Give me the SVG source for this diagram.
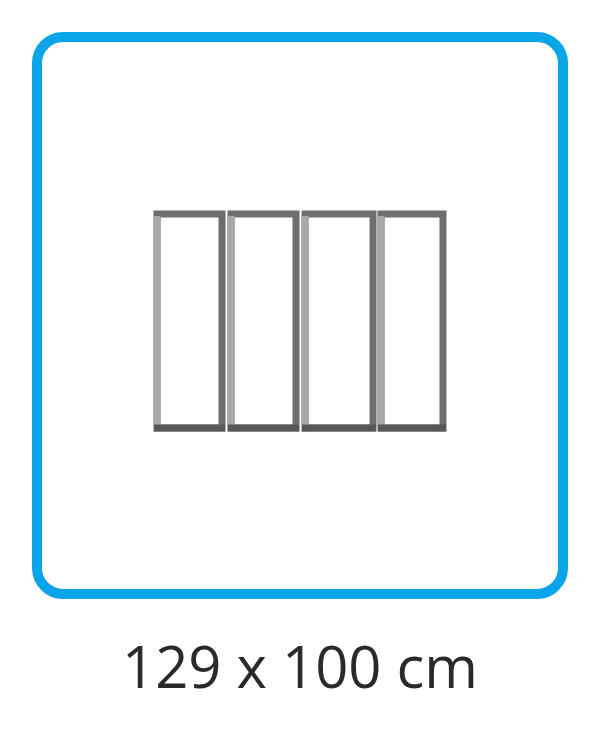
<svg xmlns="http://www.w3.org/2000/svg" width="600" height="747" viewBox="0 0 600 747">
<style>
.frame{fill:#ffffff;stroke:#0aa5e8;stroke-width:10}
.panel{fill:#ffffff;stroke:#6e6e6e;stroke-width:7}
.lite{stroke:#a8a8a8;stroke-width:7;fill:none}
.bot{stroke:#585858;stroke-width:7;fill:none}
.label{font-family:"Open Sans","Noto Sans","Liberation Sans",sans-serif;font-size:58px;fill:#2a2a2a;text-anchor:middle}
</style>
<rect width="600" height="747" fill="#ffffff"/>
<g id="frame">
<rect class="frame" x="37" y="37" width="526" height="557" rx="26" ry="26"/>
</g>
<g id="panels">
<g id="panel1"><rect class="panel" x="157" y="214" width="65" height="214"/><line class="lite" x1="157" y1="216" x2="157" y2="428"/><line class="bot" x1="154" y1="428" x2="225" y2="428"/></g>
<g id="panel2"><rect class="panel" x="231" y="214" width="65" height="214"/><line class="lite" x1="231" y1="216" x2="231" y2="428"/><line class="bot" x1="228" y1="428" x2="299" y2="428"/></g>
<g id="panel3"><rect class="panel" x="305" y="214" width="68" height="214"/><line class="lite" x1="305" y1="216" x2="305" y2="428"/><line class="bot" x1="302" y1="428" x2="376" y2="428"/></g>
<g id="panel4"><rect class="panel" x="381" y="214" width="62" height="214"/><line class="lite" x1="381" y1="216" x2="381" y2="428"/><line class="bot" x1="378" y1="428" x2="446" y2="428"/></g>
</g>
<g id="caption">
<text class="label" x="300" y="688">129 x 100 cm</text>
</g>
</svg>
